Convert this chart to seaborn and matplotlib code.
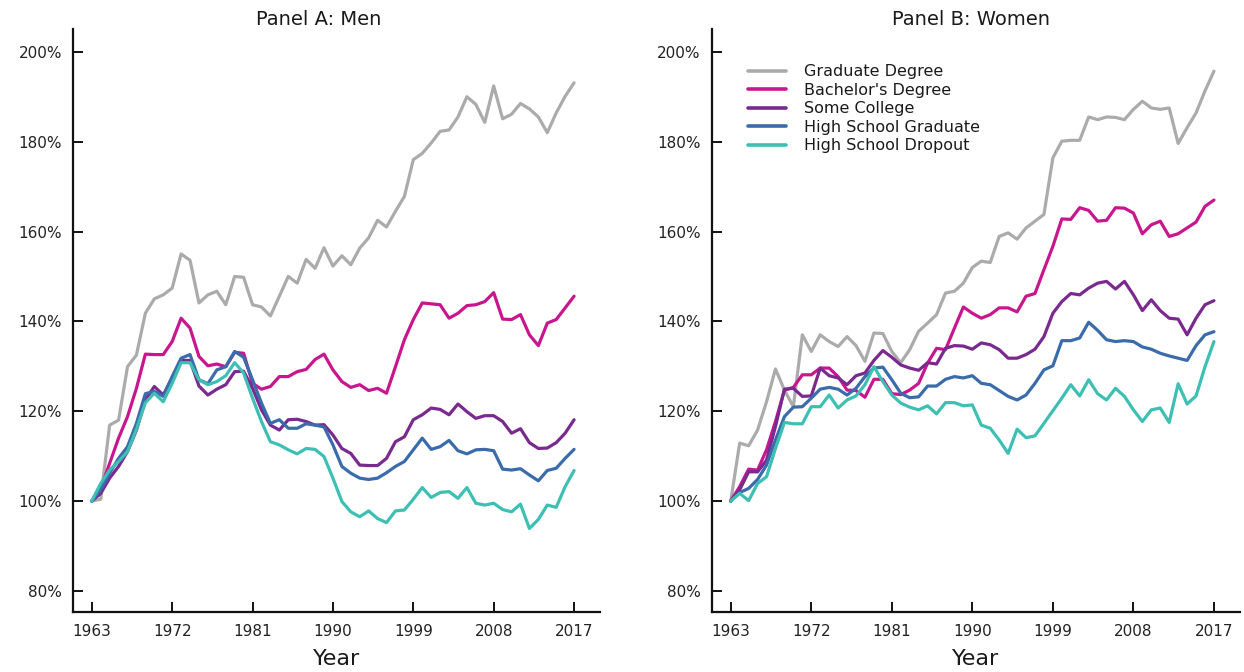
import matplotlib
matplotlib.use('Agg')
import matplotlib.pyplot as plt
import matplotlib.ticker as mticker
import seaborn as sns
import pandas as pd

years = list(range(1963, 2018))
groups = ['Graduate Degree', "Bachelor's Degree", 'Some College',
          'High School Graduate', 'High School Dropout']
colors = ['#ababab', '#c8168f', '#7a2a8f', '#3a6baa', '#3dbfb4']

# Panel A: Men (index, 1963 = 100%)
men_grad = [100.0, 100.4, 116.9, 118.0, 129.9, 132.5, 141.8, 145.0, 145.9, 147.4,
            155.0, 153.6, 144.1, 145.9, 146.7, 143.7, 150.0, 149.8, 143.7, 143.2,
            141.2, 145.6, 150.0, 148.5, 153.8, 151.8, 156.4, 152.3, 154.6, 152.6,
            156.3, 158.6, 162.5, 161.0, 164.5, 167.8, 176.0, 177.4, 179.7, 182.3,
            182.6, 185.5, 190.0, 188.3, 184.3, 192.4, 185.1, 186.1, 188.5, 187.3,
            185.5, 182.0, 186.4, 190.1, 193.1]
men_ba = [100.0, 102.8, 108.4, 114.0, 118.8, 125.1, 132.7, 132.6, 132.6, 135.5,
          140.7, 138.5, 132.2, 130.1, 130.5, 129.9, 133.1, 132.9, 126.2, 124.9,
          125.5, 127.7, 127.7, 128.8, 129.3, 131.5, 132.7, 129.2, 126.6, 125.3,
          125.9, 124.6, 125.1, 124.0, 129.9, 135.9, 140.4, 144.1, 143.9, 143.7,
          140.7, 141.8, 143.5, 143.7, 144.4, 146.4, 140.5, 140.4, 141.5, 137.0,
          134.6, 139.6, 140.4, 143.0, 145.6]
men_sc = [100.0, 101.7, 105.1, 107.7, 111.0, 115.8, 122.5, 125.5, 123.6, 127.4,
          131.3, 131.3, 125.6, 123.6, 124.9, 125.9, 128.8, 128.9, 125.1, 120.3,
          116.9, 115.8, 118.1, 118.2, 117.7, 116.9, 117.0, 114.7, 111.7, 110.6,
          108.0, 107.9, 107.9, 109.5, 113.2, 114.3, 118.1, 119.2, 120.7, 120.4,
          119.2, 121.6, 119.9, 118.4, 119.0, 119.0, 117.7, 115.1, 116.1, 113.0,
          111.7, 111.8, 113.0, 115.1, 118.1]
men_hs = [100.0, 102.5, 106.2, 109.5, 112.1, 117.3, 123.9, 124.4, 123.3, 127.7,
          131.8, 132.6, 127.0, 126.1, 129.2, 129.9, 133.3, 132.0, 127.0, 121.8,
          117.3, 118.1, 116.2, 116.2, 117.2, 116.9, 116.5, 112.5, 107.7, 106.2,
          105.1, 104.8, 105.1, 106.3, 107.7, 108.8, 111.4, 114.0, 111.5, 112.1,
          113.5, 111.2, 110.5, 111.4, 111.5, 111.2, 107.1, 106.9, 107.2, 105.8,
          104.5, 106.8, 107.3, 109.5, 111.5]
men_hsd = [100.0, 103.9, 106.9, 108.8, 111.0, 116.0, 121.9, 124.0, 122.1, 126.2,
           130.8, 130.8, 127.0, 125.9, 126.6, 127.9, 130.8, 128.5, 122.9, 117.7,
           113.2, 112.5, 111.4, 110.5, 111.7, 111.5, 109.9, 105.1, 99.9, 97.6,
           96.5, 97.8, 96.1, 95.2, 97.8, 98.0, 100.4, 103.0, 100.8, 101.9,
           102.1, 100.6, 103.0, 99.5, 99.1, 99.5, 98.1, 97.6, 99.3, 93.9,
           95.9, 99.1, 98.6, 103.2, 106.8]

# Panel B: Women
women_grad = [100.0, 112.9, 112.3, 115.8, 122.1, 129.4, 124.7, 121.0, 137.0, 133.3,
              137.0, 135.5, 134.4, 136.6, 134.6, 131.1, 137.4, 137.3, 133.3, 130.8,
              133.7, 137.8, 139.6, 141.5, 146.3, 146.7, 148.5, 152.0, 153.4, 153.1,
              158.9, 159.7, 158.3, 160.8, 162.3, 163.8, 176.4, 180.1, 180.3, 180.3,
              185.5, 184.9, 185.5, 185.4, 184.9, 187.2, 189.0, 187.5, 187.2, 187.5,
              179.6, 183.1, 186.4, 191.3, 195.7]
women_ba = [100.0, 103.2, 107.1, 106.9, 111.4, 117.7, 124.7, 125.3, 128.1, 128.1,
            129.6, 129.6, 127.7, 124.7, 124.6, 123.1, 127.1, 127.1, 123.9, 123.7,
            124.7, 126.2, 130.7, 134.0, 133.7, 138.5, 143.2, 141.8, 140.7, 141.5,
            143.0, 143.0, 142.1, 145.6, 146.2, 151.5, 156.7, 162.8, 162.7, 165.3,
            164.7, 162.3, 162.5, 165.3, 165.2, 164.1, 159.5, 161.5, 162.3, 158.9,
            159.5, 160.8, 162.1, 165.6, 167.0]
women_sc = [100.0, 102.5, 106.5, 106.5, 109.1, 116.6, 124.9, 125.1, 123.3, 123.4,
            129.6, 127.9, 127.4, 125.9, 127.9, 128.5, 131.3, 133.5, 132.0, 130.3,
            129.6, 129.1, 130.8, 130.5, 134.0, 134.6, 134.5, 133.8, 135.2, 134.8,
            133.7, 131.8, 131.8, 132.6, 133.8, 136.6, 141.8, 144.4, 146.2, 145.9,
            147.4, 148.5, 148.9, 147.2, 148.9, 145.9, 142.4, 144.8, 142.4, 140.7,
            140.5, 137.0, 140.7, 143.7, 144.6]
women_hs = [100.0, 101.9, 102.8, 104.8, 108.0, 113.6, 118.8, 120.9, 121.0, 122.9,
            124.9, 125.3, 124.9, 123.6, 125.1, 127.7, 129.6, 129.8, 127.0, 124.0,
            123.0, 123.2, 125.6, 125.6, 127.1, 127.7, 127.4, 127.9, 126.2, 125.9,
            124.6, 123.3, 122.5, 123.6, 126.2, 129.2, 130.1, 135.7, 135.7, 136.3,
            139.8, 138.0, 135.9, 135.5, 135.7, 135.5, 134.3, 133.8, 132.9, 132.3,
            131.8, 131.3, 134.6, 137.0, 137.7]
women_hsd = [100.0, 101.7, 100.1, 103.9, 105.4, 111.7, 117.5, 117.2, 117.2, 121.0,
             121.0, 123.6, 120.7, 122.5, 123.4, 125.9, 129.9, 126.6, 123.6, 121.8,
             120.9, 120.3, 121.2, 119.4, 121.9, 121.9, 121.2, 121.4, 116.9, 116.2,
             113.6, 110.6, 116.0, 114.1, 114.5, 117.3, 120.1, 122.9, 125.9, 123.4,
             127.0, 123.9, 122.5, 125.1, 123.3, 120.3, 117.7, 120.3, 120.7, 117.5,
             126.1, 121.6, 123.4, 129.9, 135.5]

year_ticks = [1963, 1972, 1981, 1990, 1999, 2008, 2017]
pct_ticks = [80, 100, 120, 140, 160, 180, 200]


def to_long(series_list):
    frames = []
    for name, vals in zip(groups, series_list):
        frames.append(pd.DataFrame({'Year': years, 'Value': vals, 'Group': name}))
    return pd.concat(frames, ignore_index=True)


df_men = to_long([men_grad, men_ba, men_sc, men_hs, men_hsd])
df_women = to_long([women_grad, women_ba, women_sc, women_hs, women_hsd])

sns.set_style('white')
plt.rcParams['font.family'] = ['DejaVu Sans']
plt.rcParams['text.color'] = '#1a1a1a'

fig = plt.figure(figsize=(12.44, 6.72), dpi=100)
ax_a = fig.add_axes([0.0587, 0.0893, 0.4236, 0.867])
ax_b = fig.add_axes([0.5723, 0.0893, 0.4244, 0.867])

palette = dict(zip(groups, colors))

for ax, df, title, tx in [(ax_a, df_men, 'Panel A: Men', 0.467),
                          (ax_b, df_women, 'Panel B: Women', 0.49)]:
    sns.lineplot(data=df, x='Year', y='Value', hue='Group', palette=palette,
                 hue_order=groups, linewidth=2.3, ax=ax, legend=(ax is ax_b))
    ax.set_xlim(1960.9, 2019.9)
    ax.set_ylim(75.3, 205)
    ax.set_xticks(year_ticks)
    ax.set_yticks(pct_ticks)
    ax.yaxis.set_major_formatter(mticker.FuncFormatter(lambda v, p: f'{v:.0f}%'))
    ax.tick_params(bottom=True, left=True, direction='in', length=7, width=1.4,
                   labelsize=11, color='#111111', labelcolor='#222222')
    ax.tick_params(axis='y', pad=8)
    ax.tick_params(axis='x', pad=9)
    for side in ['top', 'right']:
        ax.spines[side].set_visible(False)
    for side in ['left', 'bottom']:
        ax.spines[side].set_linewidth(1.6)
        ax.spines[side].set_color('#111111')
    ax.set_xlabel('Year', fontsize=16, labelpad=7, color='#1a1a1a')
    ax.set_ylabel('')
    ax.set_title(title, fontsize=14, x=tx, pad=3)
    ax.grid(False)

leg = ax_b.legend(loc='upper left', bbox_to_anchor=(0.068, 0.94), frameon=False,
                  fontsize=11.5, handlelength=2.4, handletextpad=1.1,
                  labelspacing=0.22, borderpad=0, borderaxespad=0)
for line in leg.get_lines():
    line.set_linewidth(2.6)

plt.savefig('out.png', dpi=100)
